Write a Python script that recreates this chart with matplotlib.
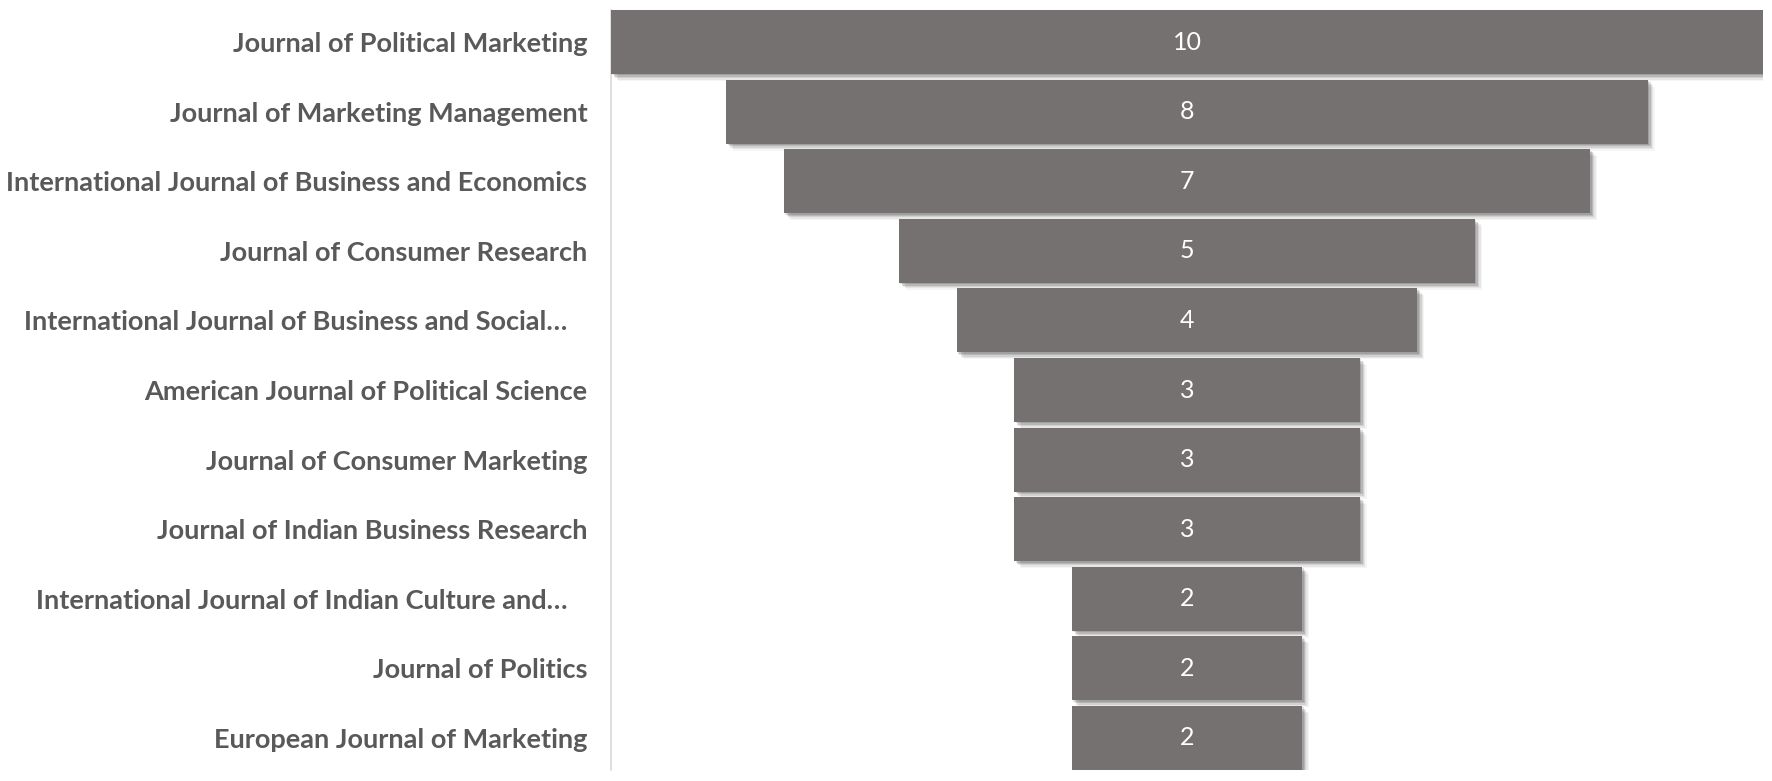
import matplotlib
matplotlib.use("Agg")
import matplotlib.pyplot as plt
import matplotlib.patheffects as pe
from matplotlib.transforms import ScaledTranslation

journals = [
    "Journal of Political Marketing",
    "Journal of Marketing Management",
    "International Journal of Business and Economics",
    "Journal of Consumer Research",
    "International Journal of Business and Social…",
    "American Journal of Political Science",
    "Journal of Consumer Marketing",
    "Journal of Indian Business Research",
    "International Journal of Indian Culture and…",
    "Journal of Politics",
    "European Journal of Marketing",
]
counts = [10, 8, 7, 5, 4, 3, 3, 3, 2, 2, 2]

BAR = "#767171"
TXT = "#595959"
FONT = "Lato"

fig = plt.figure(figsize=(17.72, 7.81), dpi=100)
ax = fig.add_axes([611 / 1772, 11 / 781, (1763 - 611) / 1772, (772 - 12) / 781])

h = 0.92
pos = list(range(len(journals)))
lefts = [-c / 2 for c in counts]

shadow = [
    pe.SimplePatchShadow(offset=(5, -5), shadow_rgbFace="#000000", alpha=0.04),
    pe.SimplePatchShadow(offset=(4, -4), shadow_rgbFace="#000000", alpha=0.06),
    pe.SimplePatchShadow(offset=(3, -3), shadow_rgbFace="#000000", alpha=0.09),
    pe.SimplePatchShadow(offset=(2, -2), shadow_rgbFace="#000000", alpha=0.12),
    pe.SimplePatchShadow(offset=(1, -1), shadow_rgbFace="#000000", alpha=0.12),
    pe.Normal(),
]
bars = ax.barh(pos, counts, left=lefts, height=h, color=BAR, zorder=3)
for b in bars:
    b.set_path_effects(shadow)

for y, c in zip(pos, counts):
    ax.text(0, y, str(c), ha="center", va="center", color="white",
            fontsize=18, family=FONT, zorder=5)

ax.set_xlim(-5, 5)
ax.set_ylim(len(journals) - 1 + h / 2, -h / 2)
ax.set_yticks(pos)
ax.set_yticklabels(journals, fontsize=19.5, fontweight="bold", color=TXT, family=FONT)
ax.tick_params(axis="y", length=0, pad=17)
ax.set_xticks([])
for s in ["top", "right", "bottom"]:
    ax.spines[s].set_visible(False)
ax.spines["left"].set_color("#d9d9d9")
ax.spines["left"].set_linewidth(1.2)
ax.spines["left"].set_zorder(1)

for lab in ax.get_yticklabels():
    if lab.get_text().endswith("…"):
        lab.set_transform(lab.get_transform() + ScaledTranslation(-0.2, 0, fig.dpi_scale_trans))

fig.savefig("out.png", dpi=100, facecolor="white")
